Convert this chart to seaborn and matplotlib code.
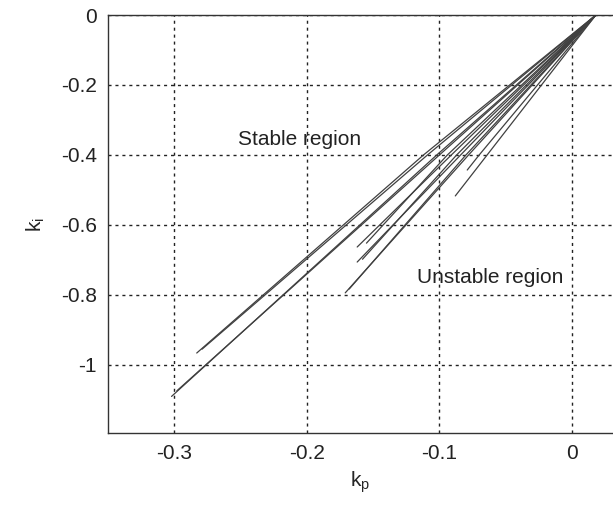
import pandas as pd
import matplotlib
matplotlib.use('Agg')
import matplotlib.pyplot as plt
import seaborn as sns

# stability boundary curves: all start at a common apex, pass a point
# at ki = -0.4 and end at the values
apex_kp = 0.018
apex_ki = 0.0
mid_ki = -0.4
mid_kp = [-0.102, -0.100, -0.112, -0.109, -0.078, -0.080, -0.084, -0.087, -0.091, -0.094, -0.064, -0.070]
end_kp = [-0.302, -0.298, -0.283, -0.279, -0.171, -0.168, -0.162, -0.158, -0.162, -0.155, -0.088, -0.079]
end_ki = [-1.090, -1.074, -0.966, -0.955, -0.794, -0.783, -0.706, -0.698, -0.663, -0.652, -0.517, -0.443]

x_ticks = [-0.3, -0.2, -0.1, 0]
y_ticks = [0, -0.2, -0.4, -0.6, -0.8, -1]
x_tick_labels = ['-0.3', '-0.2', '-0.1', '0']
y_tick_labels = ['0', '-0.2', '-0.4', '-0.6', '-0.8', '-1']

rows = []
for i, (mk, kp, ki) in enumerate(zip(mid_kp, end_kp, end_ki)):
    rows.append({'curve': i, 'kp': apex_kp, 'ki': apex_ki})
    rows.append({'curve': i, 'kp': mk, 'ki': mid_ki})
    rows.append({'curve': i, 'kp': kp, 'ki': ki})
df = pd.DataFrame(rows)

sns.set_style('white')
plt.rcParams['font.family'] = ['Liberation Sans', 'DejaVu Sans']
plt.rcParams['axes.unicode_minus'] = False

fig = plt.figure(figsize=(6.13, 5.09), dpi=100)
ax = fig.add_axes([0.176, 0.149, 0.822, 0.8215])

sns.lineplot(data=df, x='kp', y='ki', units='curve', estimator=None,
             color='0.25', linewidth=0.9, sort=False, ax=ax)

ax.set_xlim(-0.35, 0.03)
ax.set_ylim(-1.195, 0)
ax.set_xticks(x_ticks)
ax.set_xticklabels(x_tick_labels)
ax.set_yticks(y_ticks)
ax.set_yticklabels(y_tick_labels)
ax.tick_params(direction='in', length=4, labelsize=15, colors='#222222', pad=8)

ax.grid(True, color='#222222', linestyle=(0, (2.2, 2.8)), linewidth=1.0)
for s in ax.spines.values():
    s.set_color('#333333')
    s.set_linewidth(1.0)
ax.spines['right'].set_visible(False)

ax.set_xlabel('k$_\\mathregular{p}$', fontsize=15, labelpad=4)
ax.set_ylabel('k$_\\mathregular{i}$', fontsize=15, labelpad=10)

ax.text(-0.252, -0.357, 'Stable region', fontsize=15, va='center', ha='left', color='#222222')
ax.text(-0.117, -0.751, 'Unstable region', fontsize=15, va='center', ha='left', color='#222222')

fig.savefig('out.png', dpi=100)
